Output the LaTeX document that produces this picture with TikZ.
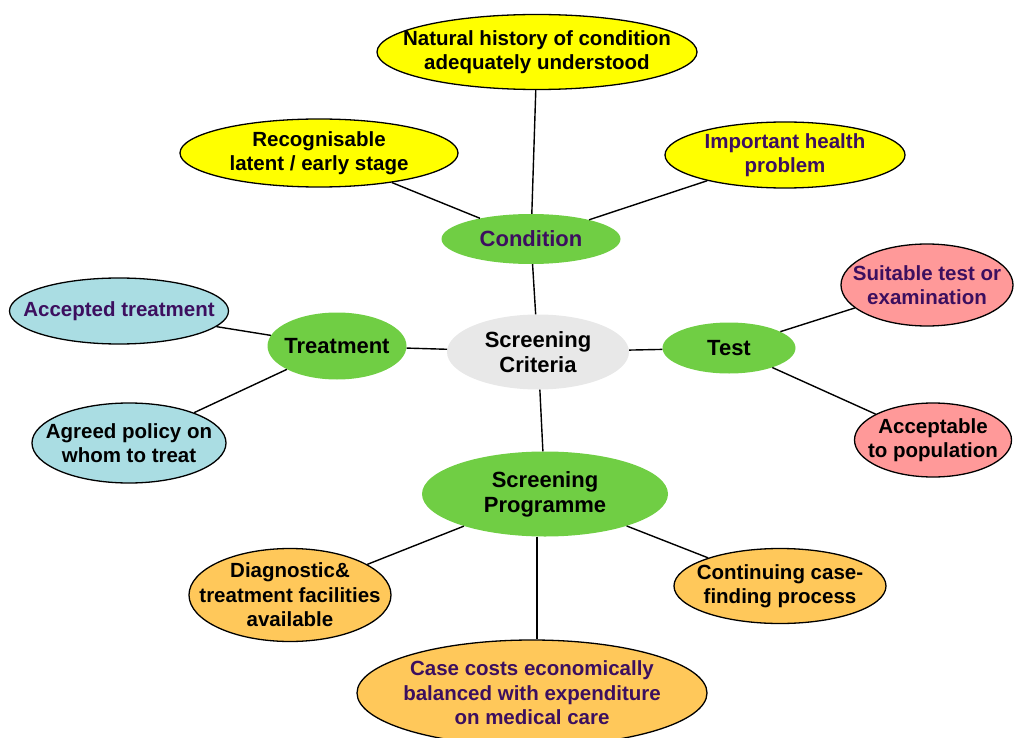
\documentclass[tikz,border=0pt]{standalone}
\usepackage{fontspec}
\setmainfont{Liberation Sans}
\usepackage{tikz}
\usetikzlibrary{shapes}
\definecolor{jaune}{RGB}{255,255,0}
\definecolor{vert}{RGB}{112,206,68}
\definecolor{bleu}{RGB}{170,221,227}
\definecolor{rose}{RGB}{255,153,153}
\definecolor{ocre}{RGB}{255,200,90}
\definecolor{gris}{gray}{0.91}
\definecolor{pourpre}{RGB}{60,15,95}

\tikzset{
  feuille/.style={ellipse, draw=black, line width=1.3pt, inner sep=0pt},
  branche/.style={ellipse, fill=vert, inner sep=0pt},
  lien/.style={line width=1.4pt},
  gros/.style={font=\bfseries\fontsize{22}{25}\selectfont},
  mauve/.style={text=pourpre},
  every label/.style={align=center, inner sep=0pt,
    font=\bfseries\fontsize{20.5}{24.5}\selectfont}
}

\begin{document}
\begin{tikzpicture}[x=1pt,y=-1pt]
  \useasboundingbox (0,0) rectangle (1014,738);

  % Centre.
  \node[ellipse, fill=gris, inner sep=0pt, minimum width=182, minimum height=75,
    label={[gros]center:Screening\\Criteria}] (crit) at (538,352) {};

  % Condition.
  \node[branche, minimum width=179, minimum height=50,
    label={[gros,mauve]center:Condition}] (cond) at (531,239) {};
  \node[feuille, fill=jaune, minimum width=320, minimum height=75,
    label={center:Natural history of condition\\adequately understood}] (nat) at (537,52) {};
  \node[feuille, fill=jaune, minimum width=278, minimum height=68,
    label={center:Recognisable\\latent / early stage}] (recog) at (319,153) {};
  \node[feuille, fill=jaune, minimum width=240, minimum height=66,
    label={[mauve]center:Important health\\problem}] (imp) at (785,155) {};

  % Traitement.
  \node[branche, minimum width=139, minimum height=67,
    label={[gros]center:Treatment}] (treat) at (337,346) {};
  \node[feuille, fill=bleu, minimum width=219, minimum height=66,
    label={[mauve]center:Accepted treatment}] (accept) at (119,311) {};
  \node[feuille, fill=bleu, minimum width=194, minimum height=80,
    label={center:Agreed policy on\\whom to treat}] (policy) at (129,443) {};

  % Test.
  \node[branche, minimum width=133, minimum height=51,
    label={[gros]center:Test}] (test) at (729,348) {};
  \node[feuille, fill=rose, minimum width=172, minimum height=82,
    label={[mauve]center:Suitable test or\\examination}] (suit) at (927,285) {};
  \node[feuille, fill=rose, minimum width=157, minimum height=74,
    label={center:Acceptable\\to population}] (popul) at (933,440) {};

  % Programme.
  \node[branche, minimum width=246, minimum height=85,
    label={[gros]center:Screening\\Programme}] (prog) at (545,494) {};
  \node[feuille, fill=ocre, minimum width=202, minimum height=93,
    label={center:Diagnostic\&\\treatment facilities\\available}] (diag) at (290,595) {};
  \node[feuille, fill=ocre, minimum width=212, minimum height=75,
    label={center:Continuing case-\\finding process}] (contin) at (780,586) {};
  \node[feuille, fill=ocre, minimum width=350, minimum height=106,
    label={[mauve]center:Case costs economically\\balanced with expenditure\\on medical care}] (cost) at (532,693) {};

  % Liens.
  \draw[lien] (crit) -- (cond);
  \draw[lien] (crit) -- (treat);
  \draw[lien] (crit) -- (test);
  \draw[lien] (crit) -- (prog);
  \draw[lien] (cond) -- (nat);
  \draw[lien] (cond) -- (recog);
  \draw[lien] (cond) -- (imp);
  \draw[lien] (treat) -- (accept);
  \draw[lien] (treat) -- (policy);
  \draw[lien] (test) -- (suit);
  \draw[lien] (test) -- (popul);
  \draw[lien] (prog) -- (diag);
  \draw[lien] (prog) -- (contin);
  \draw[lien] ([xshift=-8]prog.south) -- ([xshift=-8]prog.south |- cost.north);
\end{tikzpicture}
\end{document}
